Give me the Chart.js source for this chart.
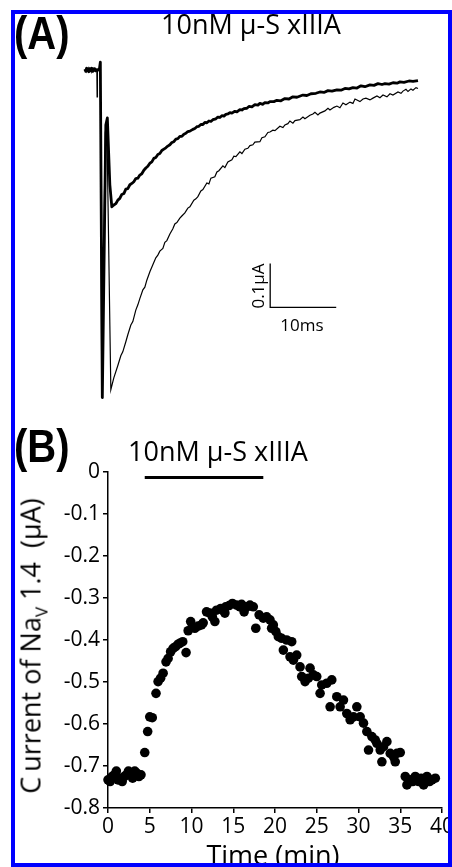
<!DOCTYPE html>
<html>
<head>
<meta charset="utf-8">
<script src="https://cdn.jsdelivr.net/npm/chart.js@4.4.1/dist/chart.umd.min.js"></script>
<style>
  html, body { margin: 0; padding: 0; background: #fff; }
  #page { position: relative; width: 452px; height: 867px; overflow: hidden; background: #fff; font-family: 'Open Sans', sans-serif; color: #000; }
  canvas { position: absolute; left: 0; top: 0; }
  .lbl { position: absolute; white-space: nowrap; line-height: 1; }
  .panel { font-family: 'Liberation Sans', Arial, sans-serif; font-weight: bold; font-size: 40px; transform-origin: 0 0; transform: scaleY(1.15); }
  .title { font-size: 27px; transform: translateX(-50%); }
  #frame { position: absolute; left: 11px; top: 10px; width: 441px; height: 857px; box-sizing: border-box; border: 4px solid #0000ff; z-index: 5; }
</style>
</head>
<body>
<div id="page">
  <canvas id="traces" width="452" height="867"></canvas>
  <canvas id="timecourse" width="452" height="867"></canvas>

  <div class="lbl panel" style="left:14px; top:10px;">(A)</div>
  <div class="lbl title" style="left:251px; top:10px;">10nM μ-S xIIIA</div>
  <div class="lbl" style="left:257px; top:286px; font-size:17px; transform: translate(-50%,-50%) rotate(-90deg);">0.1μA</div>
  <div class="lbl" style="left:302px; top:324px; font-size:17px; transform: translate(-50%,-50%);">10ms</div>

  <div class="lbl panel" style="left:14px; top:423px;">(B)</div>
  <div class="lbl title" style="left:218px; top:437px;">10nM μ-S xIIIA</div>
  <div class="lbl" style="left:33px; top:646px; font-size:27px; transform: translate(-50%,-50%) rotate(-90deg);">C<span style="margin-left:5px">urrent of Na</span><sub style="font-size:17px; vertical-align:-7px;">V</sub> 1.4&nbsp;&nbsp;(μA)</div>
  <div class="lbl" style="left:273px; top:841px; font-size:27px; transform: translateX(-50%);">Time (min)</div>

  <div id="frame"></div>
</div>
<script>
// ---- panel A: current traces (time in ms, current in uA) ----
const ctrlTime = [-2.27, -2.12, -1.97, -1.82, -1.67, -1.52, -1.36, -1.21, -1.06, -0.91, -0.76, -0.61, -0.45, -0.41, -0.36, -0.08, 0.08, 0.30, 0.83, 1.06,
  1.67, 2.12, 2.73, 3.18, 3.48, 3.94, 4.24, 4.70, 5.00, 5.45, 5.76, 6.06, 6.52, 6.82, 7.12, 7.58, 8.03, 8.48, 8.79, 9.09,
  9.55, 9.85, 10.15, 10.61, 11.06, 11.36, 11.67, 12.12, 12.42, 12.88, 13.33, 13.64, 14.24, 14.55, 14.85, 15.30, 15.61, 16.21, 16.52, 16.82,
  17.42, 17.73, 18.03, 18.64, 18.94, 19.39, 20.00, 20.30, 20.61, 21.21, 21.52, 21.97, 22.42, 22.73, 23.18, 23.48, 24.24, 24.55, 25.00, 25.45,
  25.76, 26.21, 26.52, 27.27, 27.73, 28.03, 28.48, 28.79, 29.24, 29.55, 30.30, 30.76, 31.06, 31.82, 32.27, 32.58, 33.03, 33.33, 34.09, 34.55,
  34.85, 35.45, 35.91, 36.36, 36.82, 37.27, 37.88, 38.33, 38.64, 39.39, 39.85, 40.30, 40.91, 41.36, 41.97, 42.42, 42.88, 43.48, 43.94, 44.39,
  45.15, 45.61, 45.91, 46.36, 46.67, 47.12, 47.42, 47.88, 48.18];
const ctrlCurrent = [-0.002, 0.003, -0.004, 0.001, 0.005, -0.002, 0.003, -0.005, 0.000, 0.004, -0.002, 0.001, 0.000, -0.061, -0.003, 0.000, 0.018, -0.745, -0.143, -0.118,
  -0.727, -0.700, -0.672, -0.650, -0.641, -0.618, -0.602, -0.580, -0.572, -0.546, -0.534, -0.520, -0.500, -0.494, -0.478, -0.459, -0.443, -0.427, -0.421, -0.412,
  -0.406, -0.392, -0.388, -0.373, -0.361, -0.350, -0.347, -0.337, -0.332, -0.325, -0.314, -0.311, -0.296, -0.293, -0.288, -0.275, -0.272, -0.257, -0.259, -0.246,
  -0.243, -0.232, -0.229, -0.218, -0.222, -0.209, -0.204, -0.196, -0.197, -0.186, -0.190, -0.180, -0.178, -0.172, -0.170, -0.164, -0.163, -0.154, -0.152, -0.142,
  -0.141, -0.137, -0.138, -0.128, -0.131, -0.125, -0.122, -0.116, -0.121, -0.115, -0.113, -0.107, -0.111, -0.103, -0.100, -0.096, -0.102, -0.098, -0.093, -0.087,
  -0.091, -0.085, -0.082, -0.086, -0.075, -0.079, -0.073, -0.076, -0.066, -0.072, -0.066, -0.064, -0.068, -0.064, -0.059, -0.063, -0.057, -0.061, -0.054, -0.057,
  -0.050, -0.053, -0.048, -0.044, -0.049, -0.043, -0.046, -0.040, -0.042];

const toxTime = [-2.27, -2.12, -1.97, -1.82, -1.67, -1.52, -1.36, -1.21, -1.06, -0.91, -0.76, -0.61, -0.45, -0.08, 0.08, 0.38, 0.91, 1.14,
  1.52, 1.82, 2.12, 2.42, 2.73, 3.03, 3.33, 3.64, 3.94, 4.24, 4.55, 4.85, 5.15, 5.45, 5.76, 6.06, 6.36, 6.67, 6.97, 7.27,
  7.58, 7.88, 8.18, 8.48, 8.79, 9.09, 9.39, 9.70, 10.00, 10.30, 10.61, 10.91, 11.21, 11.52, 11.82, 12.12, 12.42, 12.73, 13.03, 13.33,
  13.64, 14.09, 14.39, 14.70, 15.00, 15.30, 15.61, 15.91, 16.21, 16.52, 16.82, 17.12, 17.58, 17.88, 18.18, 18.48, 18.79, 19.09, 19.39, 19.70,
  20.00, 20.45, 20.76, 21.21, 21.52, 21.82, 22.27, 22.58, 23.03, 23.48, 23.94, 24.24, 24.70, 25.00, 25.45, 25.76, 26.36, 26.82, 27.42, 28.03,
  28.64, 29.24, 29.85, 30.76, 31.36, 31.97, 32.73, 33.33, 33.94, 34.55, 35.15, 35.91, 36.52, 37.12, 37.73, 38.33, 38.94, 39.55, 40.15, 40.91,
  41.52, 42.12, 42.73, 43.18, 43.79, 44.39, 45.00, 45.45, 46.06, 46.82, 47.42, 48.18];
const toxCurrent = [0.002, -0.003, 0.004, -0.001, -0.004, 0.003, -0.002, 0.004, -0.003, 0.001, 0.003, -0.002, 0.001, 0.000, 0.018, -0.745, -0.125, -0.109,
  -0.261, -0.311, -0.307, -0.304, -0.296, -0.292, -0.283, -0.281, -0.271, -0.270, -0.261, -0.258, -0.254, -0.247, -0.246, -0.239, -0.236, -0.228, -0.223, -0.219,
  -0.212, -0.209, -0.201, -0.199, -0.192, -0.190, -0.183, -0.180, -0.177, -0.173, -0.170, -0.165, -0.163, -0.157, -0.156, -0.151, -0.151, -0.146, -0.144, -0.140,
  -0.139, -0.135, -0.133, -0.129, -0.128, -0.124, -0.124, -0.119, -0.120, -0.116, -0.117, -0.113, -0.111, -0.107, -0.108, -0.104, -0.105, -0.101, -0.100, -0.097,
  -0.098, -0.094, -0.095, -0.090, -0.091, -0.088, -0.087, -0.083, -0.084, -0.079, -0.080, -0.076, -0.078, -0.074, -0.075, -0.072, -0.072, -0.069, -0.070, -0.065,
  -0.066, -0.061, -0.062, -0.057, -0.058, -0.054, -0.053, -0.050, -0.051, -0.047, -0.048, -0.045, -0.046, -0.042, -0.043, -0.040, -0.041, -0.036, -0.038, -0.034,
  -0.035, -0.031, -0.033, -0.031, -0.032, -0.029, -0.030, -0.027, -0.028, -0.025, -0.026, -0.024];

// scale bar: 10 ms x 0.1 uA
const scaleBarTime = [25.8, 25.8, 35.8];
const scaleBarCurrent = [-0.44, -0.54, -0.54];

// ---- panel B: Nav1.4 current vs time ----
const timeMin = [0.0, 0.25, 0.5, 0.75, 1.0, 1.2, 1.45, 1.7, 1.95, 2.2, 2.45, 2.7, 2.95, 3.2, 3.45, 3.7, 3.95,
  4.4, 4.75, 5.0, 5.3, 5.75, 6.0, 6.3, 6.6, 6.95, 7.2, 7.5, 7.8, 8.1, 8.4, 8.6, 8.95, 9.35, 9.6, 9.9,
  10.1, 10.4, 10.8, 11.2, 11.4, 11.8, 12.2, 12.5, 12.8, 13.0, 13.5, 13.8, 14.0, 14.1, 14.5, 14.9, 15.4, 15.8, 16.0,
  16.3, 16.6, 17.0, 17.4, 17.7, 18.1, 18.6, 19.0, 19.4, 19.6, 19.8, 20.1, 20.4, 20.8, 21.0, 21.4, 21.8, 22.0, 22.2,
  22.6, 23.0, 23.2, 23.6, 24.0, 24.2, 24.6, 25.0, 25.4, 25.6, 26.2, 26.6, 26.8, 27.4, 27.8, 28.2, 28.6, 29.0, 29.4,
  29.8, 30.2, 30.6, 31.0, 31.2, 31.6, 32.0, 32.2, 32.6, 32.8, 33.0, 33.4, 33.8, 34.2, 34.4, 34.6, 35.0, 35.6, 35.8,
  36.2, 36.5, 36.8, 37.2, 37.5, 37.8, 38.2, 38.5, 38.8, 39.2];
const currentNav = [-0.733, -0.737, -0.725, -0.721, -0.712, -0.733, -0.729, -0.737, -0.725, -0.721, -0.712, -0.717, -0.729, -0.712, -0.717, -0.725, -0.721,
  -0.668, -0.618, -0.583, -0.585, -0.527, -0.499, -0.491, -0.479, -0.452, -0.444, -0.428, -0.420, -0.416, -0.410, -0.408, -0.404, -0.430, -0.378, -0.356,
  -0.368, -0.372, -0.367, -0.364, -0.359, -0.333, -0.336, -0.345, -0.356, -0.329, -0.325, -0.330, -0.336, -0.321, -0.318, -0.313, -0.317, -0.321, -0.315,
  -0.333, -0.321, -0.317, -0.321, -0.372, -0.340, -0.348, -0.345, -0.352, -0.372, -0.364, -0.380, -0.392, -0.396, -0.424, -0.400, -0.440, -0.404, -0.448,
  -0.436, -0.464, -0.487, -0.499, -0.491, -0.467, -0.483, -0.487, -0.527, -0.507, -0.503, -0.559, -0.495, -0.535, -0.559, -0.543, -0.575, -0.590, -0.583,
  -0.559, -0.583, -0.598, -0.618, -0.662, -0.630, -0.638, -0.646, -0.662, -0.690, -0.654, -0.642, -0.670, -0.678, -0.690, -0.670, -0.668, -0.725, -0.745,
  -0.733, -0.737, -0.725, -0.737, -0.729, -0.745, -0.725, -0.737, -0.733, -0.729];

// toxin application bar
const drugBarTime = [4.4, 18.6];
const drugBarLevel = [-0.013, -0.013];

const xTickStep = 5;
const yTickStep = 0.1;

Chart.defaults.font.family = "'Open Sans', sans-serif";
Chart.defaults.color = '#000';

function pts(xs, ys) {
  return xs.map((x, i) => ({ x: x, y: ys[i] }));
}

// panel A
new Chart(document.getElementById('traces'), {
  type: 'line',
  data: {
    datasets: [
      { data: pts(ctrlTime, ctrlCurrent), borderColor: '#000', borderWidth: 1.2, pointRadius: 0, tension: 0, clip: false },
      { data: pts(toxTime, toxCurrent), borderColor: '#000', borderWidth: 2.8, pointRadius: 0, tension: 0, clip: false, borderJoinStyle: 'round' },
      { data: pts(scaleBarTime, scaleBarCurrent), borderColor: '#000', borderWidth: 1.3, pointRadius: 0, tension: 0, clip: false }
    ]
  },
  options: {
    responsive: false,
    animation: false,
    devicePixelRatio: 1,
    layout: { autoPadding: false, padding: { left: 80, right: 22, top: 48, bottom: 454 } },
    plugins: { legend: { display: false }, tooltip: { enabled: false } },
    scales: {
      x: { type: 'linear', min: -3, max: 50, display: false },
      y: { type: 'linear', min: -0.78, max: 0.05, display: false }
    }
  }
});

// panel B
new Chart(document.getElementById('timecourse'), {
  type: 'scatter',
  data: {
    datasets: [
      { data: pts(timeMin, currentNav), backgroundColor: '#000', borderWidth: 0, pointRadius: 4.8, clip: false },
      { type: 'line', data: pts(drugBarTime, drugBarLevel), borderColor: '#000', borderWidth: 3, pointRadius: 0, clip: false }
    ]
  },
  options: {
    responsive: false,
    animation: false,
    devicePixelRatio: 1,
    layout: { autoPadding: false, padding: { left: 0, right: 10, top: 472, bottom: 0 } },
    plugins: { legend: { display: false }, tooltip: { enabled: false } },
    scales: {
      x: {
        type: 'linear', min: 0, max: 40,
        ticks: { stepSize: xTickStep, padding: 1, font: { size: 21 } },
        grid: { drawOnChartArea: false, drawTicks: true, tickLength: 5, color: '#000', lineWidth: 1.5 },
        border: { display: true, color: '#000', width: 1.5 },
        afterFit: s => { s.height = 59; s.paddingLeft = 0; s.paddingRight = 0; }
      },
      y: {
        type: 'linear', min: -0.8, max: 0,
        ticks: { stepSize: yTickStep, padding: 3, font: { size: 21 },
          callback: v => (Math.abs(v) < 1e-9 ? '0' : v.toFixed(1)) },
        grid: { drawOnChartArea: false, drawTicks: true, tickLength: 5, color: '#000', lineWidth: 1.5 },
        border: { display: true, color: '#000', width: 1.5 },
        afterFit: s => { s.width = 108; s.paddingTop = 0; s.paddingBottom = 0; }
      }
    }
  }
});
</script>
</body>
</html>
